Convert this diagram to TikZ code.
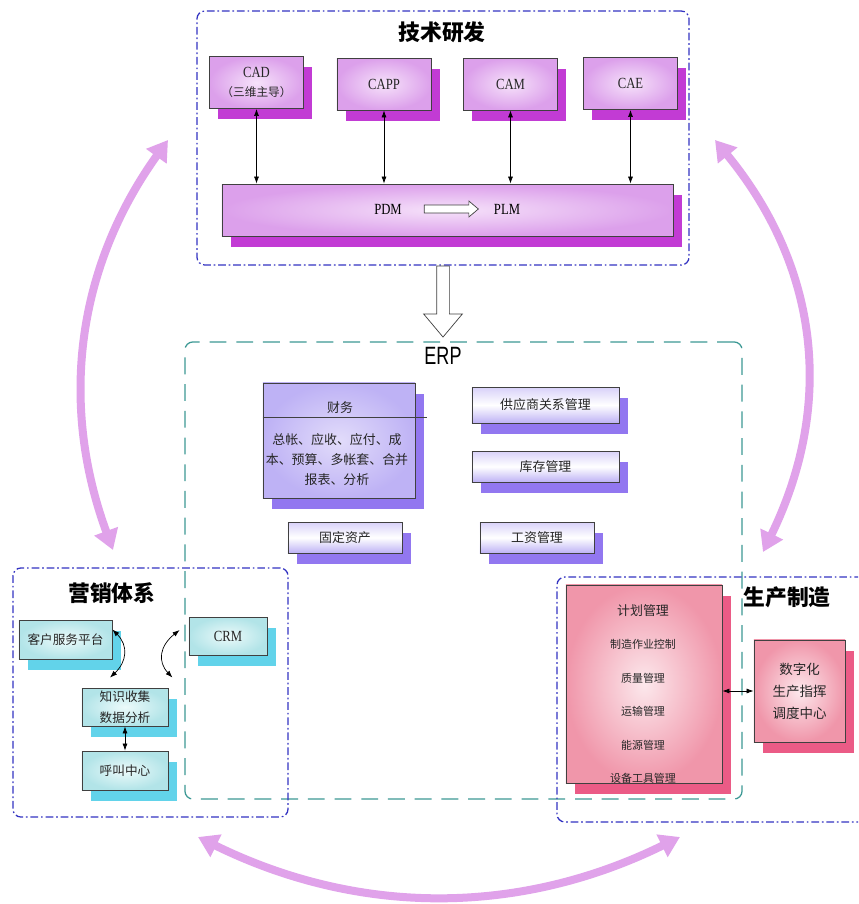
\documentclass[tikz,border=0pt]{standalone}
\usepackage{fontspec}
\setmainfont{Liberation Serif}
\newfontfamily\cjk{Noto Sans CJK SC}
\newfontfamily\narrowserif[FakeStretch=0.82]{Liberation Serif}
\newfontfamily\narrowsans[FakeStretch=0.72]{Liberation Sans}
\usepackage{xcolor}
\usepackage{tikz}
\usetikzlibrary{positioning,calc,arrows.meta,shadows,shapes.arrows}
\definecolor{GroupBlue}{RGB}{52,52,194}
\definecolor{ERPTeal}{RGB}{61,153,149}
\definecolor{ArcPink}{RGB}{224,162,234}
\definecolor{BoxLine}{RGB}{64,64,64}
\definecolor{TechEdge}{RGB}{220,160,235}
\definecolor{TechCore}{RGB}{246,226,250}
\definecolor{TechShadow}{RGB}{194,59,212}
\definecolor{ErpEdge}{RGB}{190,178,245}
\definecolor{ErpCore}{RGB}{226,220,250}
\definecolor{ErpShadow}{RGB}{146,119,240}
\definecolor{CrmEdge}{RGB}{178,228,232}
\definecolor{CrmCore}{RGB}{236,250,250}
\definecolor{CrmShadow}{RGB}{98,211,234}
\definecolor{MfgEdge}{RGB}{240,150,170}
\definecolor{MfgCore}{RGB}{252,232,236}
\definecolor{MfgShadow}{RGB}{235,91,134}
\tikzset{
    modbox/.style={rectangle, draw=BoxLine, line width=0.6pt, inner sep=0pt, align=center, text=black!85, font=\cjk\fontsize{9.2}{13.8}\selectfont},
    boxshadow/.style={drop shadow={shadow xshift=0.215cm, shadow yshift=-0.27cm, fill=#1, opacity=1}},
    groupbox/.style={rectangle, rounded corners=0.2cm, draw=GroupBlue, line width=0.9pt, dash pattern=on 5.5pt off 2pt on 1.2pt off 2pt},
    grouptitle/.style={font=\cjk\bfseries\fontsize{15.5}{18}\selectfont, inner sep=0pt},
    link/.style={<->, >={Latex[length=5pt,width=3.6pt]}, black, line width=0.5pt},
    bigarc/.style={{Triangle[width=0.6cm,length=0.5cm]}-{Triangle[width=0.6cm,length=0.5cm]}, ArcPink, line width=0.2cm}
}

\begin{document}
\begin{tikzpicture}[
        x=0.025cm, y=-0.025cm,
        % --- box styles ---
        techbox/.style={
            modbox,
            inner color=TechCore, outer color=TechEdge,
            boxshadow=TechShadow,
            minimum width=2.35cm, minimum height=1.3cm
        },
        erpbox/.style={
            modbox,
            top color=ErpEdge!60, bottom color=ErpEdge, middle color=white,
            boxshadow=ErpShadow
        },
        crmbox/.style={
            modbox,
            inner color=CrmCore, outer color=CrmEdge,
            boxshadow=CrmShadow
        },
        mfgbox/.style={
            modbox,
            inner color=MfgCore, outer color=MfgEdge,
            boxshadow=MfgShadow
        },
        % ERP frame (teal, dashed)
        erpframe/.style={
            rectangle, rounded corners=0.2cm,
            draw=ERPTeal, line width=0.9pt,
            dash pattern=on 12pt off 7pt
        },
        % hollow arrows
        hollowarrow/.style={
            single arrow, draw=BoxLine, fill=white,
            line width=0.5pt, inner xsep=0pt,
            single arrow tip angle=80
        },
        latin/.style={font=\narrowserif\fontsize{11}{13}\selectfont}
    ]

    \clip (0,0) rectangle (858,904);
    \fill[white] (0,0) rectangle (858,904);

    % --- 技术研发 ---
    \node[groupbox, minimum width=12.3cm, minimum height=6.35cm] (tech) at (443,138) {};
    \node[grouptitle] (techtitle) at (442,32) {技术研发};

    \node[techbox] (cad) at (256.5,82.5) {{\narrowserif\fontsize{11}{13}\selectfont CAD}\\{\fontsize{8.3}{10}\selectfont （三维主导）}};
    \node[techbox, latin] (capp) at (384,84) {CAPP};
    \node[techbox, latin] (cam) at (510.5,84) {CAM};
    \node[techbox, latin] (cae) at (630.5,83.5) {CAE};

    \node[techbox, minimum width=11.275cm, minimum height=1.3cm] (pdm) at (447.5,210) {};
    \node[latin] (pdmtxt) at (388,209) {PDM};
    \node[latin] (plmtxt) at (507,209) {PLM};
    \node[hollowarrow, minimum height=1.35cm, inner ysep=0.09cm, single arrow head extend=0.1cm] (pdmplm) at (449,209) {};

    \foreach \m in {cad,capp,cam,cae}
        \draw[link] (\m.south) -- (\m.south |- pdm.north);

    % tech -> ERP
    \node[hollowarrow, rotate=-90, anchor=tail, minimum height=1.775cm, inner ysep=0.15cm, single arrow head extend=0.325cm] (down) at (tech.south) {};

    % --- ERP ---
    \node[erpframe, minimum width=13.925cm, minimum height=11.425cm] (erp) at (463.5,570.5) {};
    \node[font=\narrowsans\fontsize{17.8}{20}\selectfont, inner sep=0pt] (erptitle) at (443,356) {ERP};

    \node[erpbox, inner color=ErpCore, outer color=ErpEdge, minimum width=3.8cm, minimum height=2.875cm] (caiwu) at (339,440.5) {};
    \node[font=\cjk\fontsize{9.2}{13.8}\selectfont, text=black!85] (caiwutitle) at (340,408) {财务};
    \draw[BoxLine, line width=0.6pt] ($(caiwu.north west)+(0,35)$) -- ++(164,0);
    \node[align=center, text=black!85, font=\cjk\fontsize{9.2}{14.2}\selectfont] (caiwubody) at (337,460) {总帐、应收、应付、成\\本、预算、多帐套、合并\\报表、分析};

    \node[erpbox, minimum width=3.675cm, minimum height=0.9cm] (gys) at (545.5,405) {供应商关系管理};
    \node[erpbox, minimum width=3.675cm, minimum height=0.775cm] (kucun) at (545.5,466.5) {库存管理};
    \node[erpbox, minimum width=2.85cm, minimum height=0.775cm] (guding) at (345,537.5) {固定资产};
    \node[erpbox, minimum width=2.85cm, minimum height=0.775cm] (gongzi) at (537,537.5) {工资管理};

    % --- 营销体系 ---
    \node[groupbox, minimum width=6.875cm, minimum height=6.225cm] (sales) at (150.5,692.5) {};
    \node[grouptitle] (salestitle) at (112,593) {营销体系};

    \node[crmbox, minimum width=2.325cm, minimum height=0.975cm, font=\cjk\fontsize{9}{13}\selectfont] (kefu) at (65.5,639.5) {客户服务平台};
    \node[crmbox, latin, minimum width=1.95cm, minimum height=0.95cm] (crm) at (228,636) {CRM};
    \node[crmbox, minimum width=2.15cm, minimum height=0.95cm, font=\cjk\fontsize{9}{15}\selectfont] (zhishi) at (125,707) {知识收集\\数据分析};
    \node[crmbox, minimum width=2.15cm, minimum height=0.975cm, font=\cjk\fontsize{9}{13}\selectfont] (hujiao) at (125,770.5) {呼叫中心};

    \draw[link] ($(kefu.north east)!0.25!(kefu.south east)$) .. controls +(16,16) and +(17,-16) .. ([shift={(-15,-10)}]zhishi.north);
    \draw[link] ([shift={(-9,-6)}]crm.west) .. controls +(-20,16) and +(-15,-16) .. ([shift={(4,-10)}]zhishi.north east);
    \draw[link] (zhishi) -- (hujiao);

    % --- 生产制造 ---
    \node[groupbox, minimum width=7.825cm, minimum height=6.125cm] (mfg) at (713.5,699.5) {};
    \node[grouptitle] (mfgtitle) at (787,597) {生产制造};

    \node[mfgbox, minimum width=3.9cm, minimum height=4.95cm] (jihua) at (644,684) {};
    \node[align=center, text=black!85, font=\cjk\fontsize{7.8}{23.8}\selectfont] (jihuatxt) at (643,694) {{\fontsize{9.2}{11}\selectfont 计划管理}\\制造作业控制\\质量管理\\运输管理\\能源管理\\设备工具管理};

    \node[mfgbox, minimum width=2.275cm, minimum height=2.55cm, font=\cjk\fontsize{9.6}{15.6}\selectfont] (shuzi) at (799.5,691) {数字化\\生产指挥\\调度中心};
    \draw[link] (jihua.east |- shuzi.west) -- (shuzi.west);

    % --- 大箭头 ---
    \coordinate (lbot) at (113,550);
    \coordinate (ltop) at (168,140);
    \coordinate (rtop) at (715,140);
    \coordinate (rbot) at (763,552);
    \coordinate (bl) at (198,837);
    \coordinate (br) at (680,837);

    \draw[bigarc] (lbot) .. controls +(-54,-147) and +(-91,127) .. (ltop);
    \draw[bigarc] (rtop) .. controls +(104,127) and +(72,-148) .. (rbot);
    \draw[bigarc] (bl) .. controls +(161,79) and +(-161,79) .. (br);

\end{tikzpicture}
\end{document}
